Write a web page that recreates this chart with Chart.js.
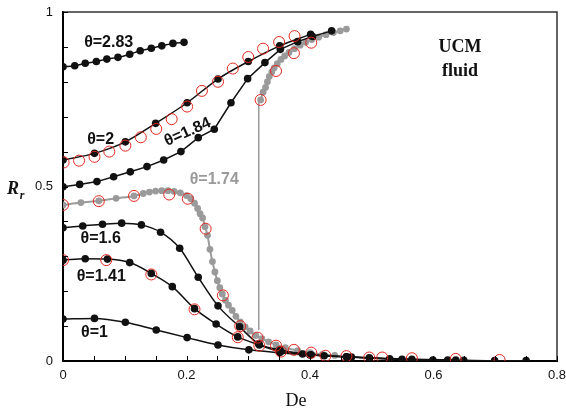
<!DOCTYPE html>
<html>
<head>
<meta charset="utf-8">
<script src="https://cdn.jsdelivr.net/npm/chart.js@4/dist/chart.umd.min.js"></script>
<style>
  html, body { margin: 0; padding: 0; background: #fff; }
</style>
</head>
<body>
<canvas id="myChart" width="566" height="412"></canvas>
<script>
// theta = 2.83
const t283X = [0, 0.019, 0.036, 0.054, 0.071, 0.089, 0.108, 0.125, 0.143, 0.160, 0.178, 0.196];
const t283Y = [0.843, 0.846, 0.853, 0.858, 0.865, 0.870, 0.879, 0.889, 0.896, 0.903, 0.910, 0.913];

// theta = 2
const t2X = [0, 0.051, 0.101, 0.150, 0.201, 0.251, 0.300, 0.351, 0.401];
const t2Y = [0.576, 0.595, 0.628, 0.681, 0.740, 0.808, 0.858, 0.903, 0.936];

// theta = 1.84
const t184X = [0, 0.027, 0.055, 0.082, 0.109, 0.136, 0.163, 0.191, 0.219, 0.245, 0.272, 0.299, 0.327, 0.352, 0.380, 0.404, 0.435];
const t184Y = [0.499, 0.506, 0.514, 0.528, 0.542, 0.557, 0.576, 0.600, 0.640, 0.664, 0.740, 0.809, 0.855, 0.893, 0.915, 0.930, 0.946];

// theta = 1.74, lower branch
const t174X = [0, 0.029, 0.058, 0.086, 0.115, 0.13, 0.14, 0.15, 0.16, 0.17, 0.18, 0.19, 0.20, 0.207, 0.213, 0.218, 0.222, 0.226, 0.230, 0.234, 0.238, 0.242, 0.246, 0.250, 0.254, 0.258, 0.263, 0.268, 0.274, 0.280, 0.287, 0.295, 0.303, 0.312, 0.322, 0.333, 0.345, 0.36, 0.38, 0.40, 0.42, 0.44];
const t174Y = [0.447, 0.454, 0.459, 0.466, 0.473, 0.480, 0.484, 0.487, 0.488, 0.488, 0.486, 0.482, 0.474, 0.465, 0.452, 0.437, 0.422, 0.410, 0.385, 0.360, 0.320, 0.285, 0.255, 0.230, 0.210, 0.192, 0.174, 0.160, 0.145, 0.128, 0.112, 0.098, 0.086, 0.073, 0.064, 0.055, 0.046, 0.038, 0.030, 0.024, 0.019, 0.016];

// theta = 1.74, upper branch
const t174UpX = [0.320, 0.324, 0.328, 0.331, 0.334, 0.338, 0.342, 0.347, 0.353, 0.359, 0.366, 0.375, 0.384, 0.393, 0.403, 0.414, 0.426, 0.438, 0.449, 0.459];
const t174UpY = [0.748, 0.770, 0.784, 0.800, 0.815, 0.828, 0.840, 0.852, 0.864, 0.874, 0.884, 0.895, 0.905, 0.913, 0.921, 0.928, 0.935, 0.941, 0.946, 0.951];

// jump between branches
const jumpX = [0.317, 0.317];
const jumpY = [0.089, 0.748];

// theta = 1.6
const t16X = [0, 0.032, 0.064, 0.095, 0.127, 0.158, 0.189, 0.219, 0.251, 0.286, 0.317, 0.351, 0.402, 0.459, 0.496, 0.565, 0.636];
const t16Y = [0.382, 0.387, 0.392, 0.395, 0.390, 0.369, 0.323, 0.240, 0.158, 0.098, 0.049, 0.032, 0.018, 0.012, 0.009, 0.005, 0.003];

// theta = 1.41
const t141X = [0, 0.036, 0.072, 0.108, 0.143, 0.177, 0.213, 0.248, 0.283, 0.318, 0.353, 0.388, 0.423, 0.467, 0.549, 0.623];
const t141Y = [0.289, 0.293, 0.292, 0.282, 0.251, 0.213, 0.150, 0.106, 0.069, 0.046, 0.027, 0.020, 0.015, 0.011, 0.005, 0.003];

// theta = 1
const t1X = [0, 0.051, 0.101, 0.151, 0.201, 0.251, 0.301, 0.351, 0.400, 0.459, 0.529, 0.599, 0.649, 0.699, 0.750];
const t1Y = [0.120, 0.122, 0.111, 0.089, 0.067, 0.046, 0.032, 0.024, 0.017, 0.012, 0.006, 0.003, 0.002, 0.001, 0.001];

// open circles (comparison data)
const refX = [0.001, 0.026, 0.051, 0.075, 0.101, 0.126, 0.151, 0.176, 0.201, 0.225, 0.251, 0.275, 0.300, 0.324, 0.350, 0.375,
  0.320, 0.345, 0.374, 0.402,
  0, 0.058, 0.115, 0.172, 0.202, 0.231, 0.259, 0.287, 0.315, 0.345, 0.374, 0.402, 0.425, 0.459, 0.496, 0.517, 0.565, 0.636, 0.707,
  0, 0.070, 0.143, 0.213, 0.283, 0.318, 0.353];
const refY = [0.569, 0.574, 0.585, 0.600, 0.617, 0.641, 0.665, 0.693, 0.729, 0.774, 0.800, 0.838, 0.871, 0.895, 0.914, 0.931,
  0.748, 0.831, 0.882, 0.912,
  0.447, 0.458, 0.473, 0.477, 0.465, 0.379, 0.188, 0.100, 0.067, 0.044, 0.032, 0.024, 0.015, 0.014, 0.010, 0.010, 0.008, 0.006, 0.003,
  0.289, 0.289, 0.248, 0.148, 0.068, 0.044, 0.027];

const xTickLabels = ["0", "0.2", "0.4", "0.6", "0.8"];
const yTickLabels = ["0", "0.5", "1"];

function pts(xs, ys) {
  return xs.map((x, i) => ({ x: x, y: ys[i] }));
}

const BLACK = "#111";
const GRAY = "#9a9a9a";
const RED = "rgb(228,40,30)";

function blackLine(xs, ys, smooth) {
  return {
    data: pts(xs, ys),
    showLine: true,
    borderColor: BLACK,
    backgroundColor: BLACK,
    borderWidth: 1.5,
    pointRadius: 3.8,
    pointBorderWidth: 0,
    cubicInterpolationMode: smooth ? "monotone" : "default",
    tension: 0,
    order: 2,
  };
}

// labels placed in data coordinates
const curveLabels = [
  { text: "θ=2.83", x: 0.074, y: 0.911, color: BLACK, rot: 0 },
  { text: "θ=2", x: 0.061, y: 0.633, color: BLACK, rot: 0 },
  { text: "θ=1.84", x: 0.202, y: 0.656, color: BLACK, rot: -24 },
  { text: "θ=1.74", x: 0.245, y: 0.519, color: GRAY, rot: 0 },
  { text: "θ=1.6", x: 0.061, y: 0.350, color: BLACK, rot: 0 },
  { text: "θ=1.41", x: 0.062, y: 0.241, color: BLACK, rot: 0 },
  { text: "θ=1", x: 0.051, y: 0.080, color: BLACK, rot: 0 },
];

const decor = {
  id: "decor",
  afterDraw(chart) {
    const { ctx, chartArea: a, scales } = chart;
    const xs = scales.x, ys = scales.y;
    ctx.save();
    // frame top / right
    ctx.strokeStyle = "#333";
    ctx.lineWidth = 1.5;
    ctx.beginPath();
    ctx.moveTo(a.left, a.top);
    ctx.lineTo(a.right, a.top);
    ctx.lineTo(a.right, a.bottom);
    ctx.stroke();
    // inward ticks
    ctx.strokeStyle = "#000";
    ctx.lineWidth = 1;
    ctx.beginPath();
    xs.ticks.forEach((t) => {
      const px = Math.round(xs.getPixelForValue(t.value)) + 0.5;
      ctx.moveTo(px, a.bottom);
      ctx.lineTo(px, a.bottom - 5);
    });
    ys.ticks.forEach((t) => {
      const py = Math.round(ys.getPixelForValue(t.value)) + 0.5;
      ctx.moveTo(a.left, py);
      ctx.lineTo(a.left + 5, py);
    });
    ctx.stroke();
    // curve labels
    ctx.font = "bold 16px 'Liberation Sans', Arial, sans-serif";
    ctx.textAlign = "center";
    ctx.textBaseline = "middle";
    curveLabels.forEach((l) => {
      ctx.save();
      ctx.translate(xs.getPixelForValue(l.x), ys.getPixelForValue(l.y));
      ctx.rotate((l.rot * Math.PI) / 180);
      ctx.fillStyle = l.color;
      ctx.fillText(l.text, 0, 0);
      ctx.restore();
    });
    // UCM fluid
    ctx.fillStyle = "#111";
    ctx.font = "bold 18px 'Liberation Serif', 'Times New Roman', serif";
    ctx.fillText("UCM", 460, 47);
    ctx.fillText("fluid", 460, 71);
    // axis titles
    ctx.font = "18px 'Liberation Serif', 'Times New Roman', serif";
    ctx.fillText("De", 296, 401);
    ctx.font = "bold italic 18px 'Liberation Serif', 'Times New Roman', serif";
    ctx.fillText("R", 13, 189);
    ctx.font = "bold italic 12px 'Liberation Serif', 'Times New Roman', serif";
    ctx.fillText("r", 22, 196);
    ctx.restore();
  },
};

new Chart(document.getElementById("myChart"), {
  type: "scatter",
  data: {
    datasets: [
      {
        data: pts(refX, refY),
        showLine: false,
        pointStyle: "circle",
        pointRadius: 5.5,
        pointBorderWidth: 1,
        borderColor: RED,
        backgroundColor: "rgba(0,0,0,0)",
        order: 0,
      },
      blackLine(t283X, t283Y, true),
      blackLine(t2X, t2Y, true),
      blackLine(t184X, t184Y, false),
      blackLine(t16X, t16Y, true),
      blackLine(t141X, t141Y, true),
      blackLine(t1X, t1Y, true),
      {
        data: pts(t174X, t174Y),
        showLine: true,
        borderColor: GRAY,
        backgroundColor: GRAY,
        borderWidth: 2,
        pointRadius: 3.4,
        pointBorderWidth: 0,
        cubicInterpolationMode: "monotone",
        order: 3,
      },
      {
        data: pts(t174UpX, t174UpY),
        showLine: true,
        borderColor: GRAY,
        backgroundColor: GRAY,
        borderWidth: 2,
        pointRadius: 3.4,
        pointBorderWidth: 0,
        order: 3,
      },
      {
        data: pts(jumpX, jumpY),
        showLine: true,
        borderColor: GRAY,
        borderWidth: 1.5,
        pointRadius: 0,
        order: 4,
      },
    ],
  },
  options: {
    responsive: false,
    animation: false,
    layout: { padding: { top: 12, right: 9, left: 0, bottom: 0 } },
    plugins: { legend: { display: false }, tooltip: { enabled: false } },
    scales: {
      x: {
        type: "linear",
        min: 0,
        max: 0.8,
        afterFit: (s) => { s.height = 51; s.paddingLeft = 0; s.paddingRight = 0; },
        grid: { display: false, drawTicks: false },
        border: { display: true, color: "#000", width: 2 },
        ticks: {
          stepSize: 0.05,
          autoSkip: false,
          maxRotation: 0,
          padding: 7,
          color: "#111",
          font: { family: "'Liberation Sans', Arial, sans-serif", size: 13 },
          callback: (v) => {
            const k = Math.round(v * 20);
            return k % 4 === 0 ? xTickLabels[k / 4] : "";
          },
        },
      },
      y: {
        type: "linear",
        min: 0,
        max: 1,
        afterFit: (s) => { s.width = 63; s.paddingTop = 0; s.paddingBottom = 0; },
        grid: { display: false, drawTicks: false },
        border: { display: true, color: "#000", width: 2 },
        ticks: {
          stepSize: 0.1,
          autoSkip: false,
          padding: 10,
          color: "#111",
          font: { family: "'Liberation Sans', Arial, sans-serif", size: 13 },
          callback: (v) => {
            const k = Math.round(v * 10);
            return k % 5 === 0 ? yTickLabels[k / 5] : "";
          },
        },
      },
    },
  },
  plugins: [decor],
});
</script>
</body>
</html>
